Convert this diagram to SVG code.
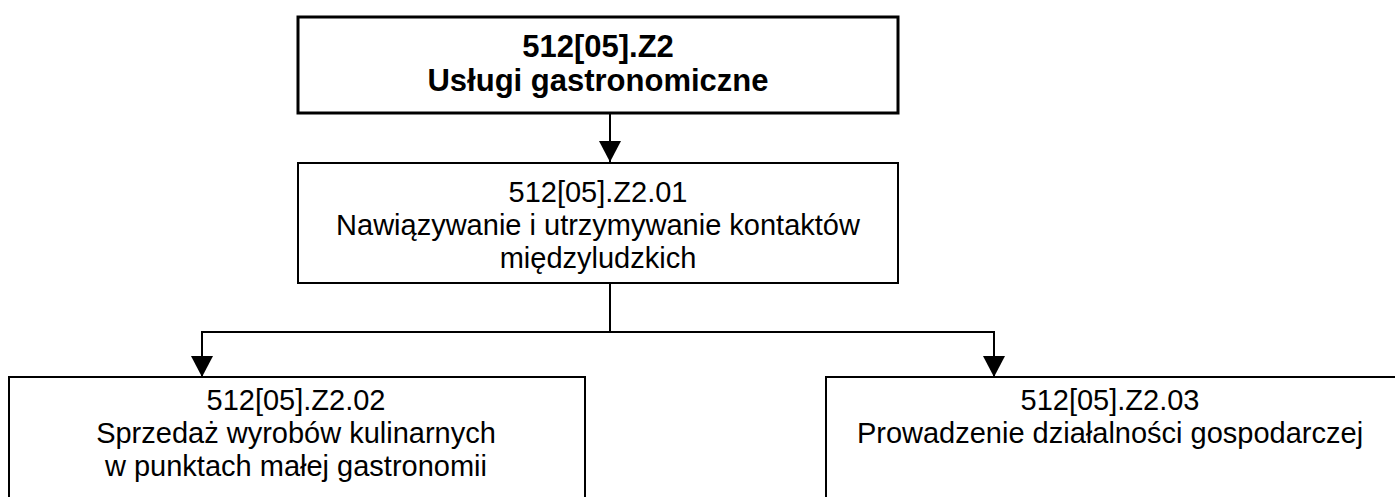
<svg xmlns="http://www.w3.org/2000/svg" width="1395" height="497" viewBox="0 0 1395 497">
<style>
.box{fill:#fff;stroke:#000;stroke-width:2}
.main{fill:#fff;stroke:#000;stroke-width:3}
.t{font-family:"Liberation Sans",Arial,sans-serif;font-size:29px;text-anchor:middle;fill:#000}
.b{font-weight:bold;font-size:31px}
.c{fill:none;stroke:#000;stroke-width:2}
</style>
<defs>
<marker id="ah" markerUnits="userSpaceOnUse" markerWidth="22" markerHeight="22" refX="21" refY="11" orient="auto" viewBox="0 0 22 22">
<path d="M0,0 L21,11 L0,22 Z" fill="#000"/>
</marker>
</defs>
<rect width="1395" height="497" fill="#fff"/>
<g id="connectors">
<line class="c" x1="610" y1="113" x2="610" y2="162" marker-end="url(#ah)"/>
<line class="c" x1="610" y1="283" x2="610" y2="332"/>
<polyline class="c" points="202,377 202,332 994,332 994,377"/>
<line class="c" x1="202" y1="340" x2="202" y2="377" marker-end="url(#ah)"/>
<line class="c" x1="994" y1="340" x2="994" y2="377" marker-end="url(#ah)"/>
</g>
<g id="n0">
<rect class="main" x="298" y="17" width="600" height="96"/>
<text class="t b" x="598" y="57">512[05].Z2</text>
<text class="t b" x="598" y="91">Usługi gastronomiczne</text>
</g>
<g id="n1">
<rect class="box" x="298" y="163" width="600" height="120"/>
<text class="t" x="598" y="202">512[05].Z2.01</text>
<text class="t" x="598" y="235">Nawiązywanie i utrzymywanie kontaktów</text>
<text class="t" x="598" y="268">międzyludzkich</text>
</g>
<g id="n2">
<rect class="box" x="9" y="377" width="576" height="130"/>
<text class="t" x="296" y="410">512[05].Z2.02</text>
<text class="t" x="296" y="443">Sprzedaż wyrobów kulinarnych</text>
<text class="t" x="296" y="476">w punktach małej gastronomii</text>
</g>
<g id="n3">
<rect class="box" x="826" y="377" width="580" height="130"/>
<text class="t" x="1110" y="410">512[05].Z2.03</text>
<text class="t" x="1110" y="443">Prowadzenie działalności gospodarczej</text>
</g>
</svg>
